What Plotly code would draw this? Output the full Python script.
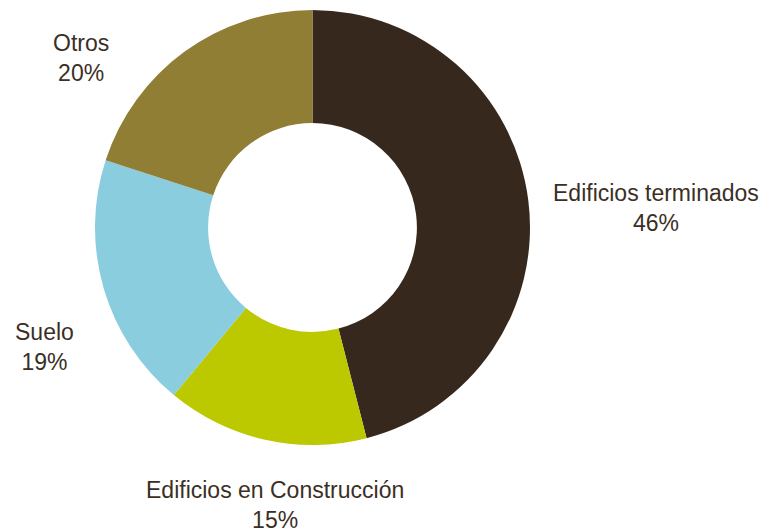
import plotly.graph_objects as go

# Portfolio breakdown by asset type
categories = ["Edificios terminados", "Edificios en Construcción", "Suelo", "Otros"]
shares = [46, 15, 19, 20]
colors = ["#36281C", "#BCC800", "#89CDDF", "#907E34"]

W, H = 769, 532

fig = go.Figure(
    go.Pie(
        labels=categories,
        values=shares,
        hole=0.48,
        sort=False,
        direction="clockwise",
        rotation=0,
        marker=dict(colors=colors, line=dict(width=0)),
        textinfo="none",
        hoverinfo="label+percent",
        domain=dict(x=[95 / W, 530 / W], y=[87 / H, 522 / H]),
        showlegend=False,
    )
)

# Outside labels: (x centre, y centre) in pixels for each category
label_pos = [(656, 208), (275, 505), (44, 347), (81, 58)]
for name, val, (px, py) in zip(categories, shares, label_pos):
    fig.add_annotation(
        x=px / W,
        y=1 - py / H,
        xref="paper",
        yref="paper",
        xanchor="center",
        yanchor="middle",
        text=f"{name}<br>{val}%",
        showarrow=False,
        align="center",
        font=dict(family="Liberation Sans", size=23, color="#3B2F25"),
    )

fig.update_layout(
    width=W,
    height=H,
    margin=dict(l=0, r=0, t=0, b=0),
    paper_bgcolor="white",
    plot_bgcolor="white",
    font=dict(family="Liberation Sans"),
)

fig.write_html("out.html")
